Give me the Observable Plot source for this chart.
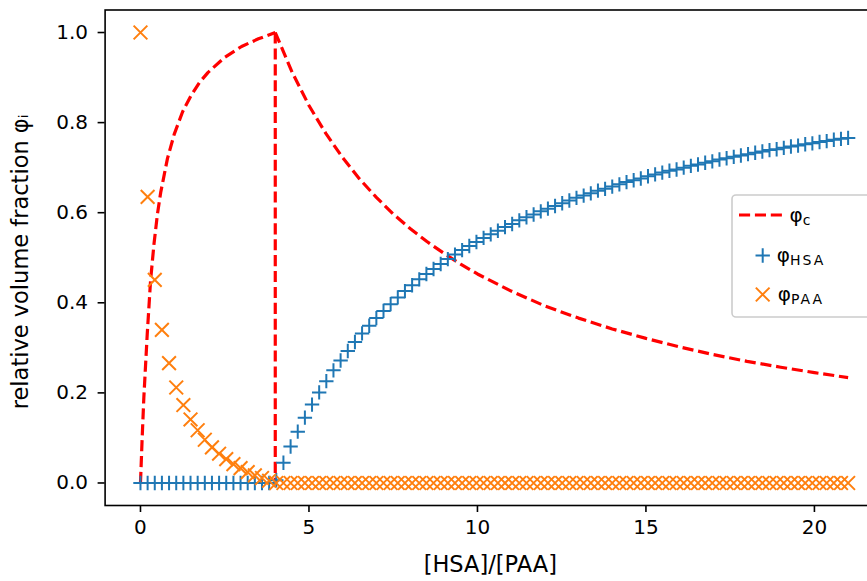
<!DOCTYPE html>
<html>
<head>
<meta charset="utf-8">
<script src="https://cdn.jsdelivr.net/npm/d3@7"></script>
<script src="https://cdn.jsdelivr.net/npm/@observablehq/plot@0.6"></script>
<style>
  html, body { margin: 0; padding: 0; background: white; overflow: hidden; }
  #chart svg { display: block; }
</style>
</head>
<body>
<div id="chart"></div>
<script>
// ---- data ----
const xLabel = "[HSA]/[PAA]";
const yLabel = "relative volume fraction φᵢ";
const xTicks = [0, 5, 10, 15, 20];
const yTicks = [0.0, 0.2, 0.4, 0.6, 0.8, 1.0];
const seriesNames = ["φc", "φHSA", "φPAA"];

// sample grid ([HSA]/[PAA])
const ratio = [0,0.212,0.424,0.636,0.848,1.061,1.273,1.485,1.697,1.909,2.121,2.333,2.545,2.758,2.970,3.182,3.394,3.606,3.818,4.030,
  4.242,4.455,4.667,4.879,5.091,5.303,5.515,5.727,5.939,6.152,6.364,6.576,6.788,7.000,7.212,7.424,7.636,7.848,8.061,8.273,
  8.485,8.697,8.909,9.121,9.333,9.545,9.758,9.970,10.182,10.394,10.606,10.818,11.030,11.242,11.455,11.667,11.879,12.091,12.303,12.515,
  12.727,12.939,13.152,13.364,13.576,13.788,14.000,14.212,14.424,14.636,14.848,15.061,15.273,15.485,15.697,15.909,16.121,16.333,16.545,16.758,
  16.970,17.182,17.394,17.606,17.818,18.030,18.242,18.455,18.667,18.879,19.091,19.303,19.515,19.727,19.939,20.152,20.364,20.576,20.788,21.000];

const phiHSA = [0,0,0,0,0,0,0,0,0,0,0,0,0,0,0,0,0,0,0,0.006,
  0.045,0.081,0.114,0.145,0.174,0.201,0.226,0.250,0.272,0.293,0.313,0.332,0.349,0.366,0.382,0.397,0.412,0.426,0.439,0.452,
  0.464,0.475,0.486,0.497,0.507,0.517,0.526,0.535,0.544,0.552,0.560,0.568,0.575,0.583,0.590,0.596,0.603,0.609,0.615,0.621,
  0.627,0.633,0.638,0.643,0.649,0.653,0.658,0.663,0.668,0.672,0.676,0.681,0.685,0.689,0.693,0.696,0.700,0.704,0.707,0.711,
  0.714,0.718,0.721,0.724,0.727,0.730,0.733,0.736,0.739,0.741,0.744,0.747,0.749,0.752,0.754,0.757,0.759,0.762,0.764,0.766];

const phiPAA = [1.000,0.635,0.451,0.340,0.266,0.212,0.173,0.141,0.117,0.096,0.079,0.065,0.053,0.042,0.033,0.024,0.017,0.011,0.005,0,
  0,0,0,0,0,0,0,0,0,0,0,0,0,0,0,0,0,0,0,0,
  0,0,0,0,0,0,0,0,0,0,0,0,0,0,0,0,0,0,0,0,
  0,0,0,0,0,0,0,0,0,0,0,0,0,0,0,0,0,0,0,0,
  0,0,0,0,0,0,0,0,0,0,0,0,0,0,0,0,0,0,0,0];

// φc : rising branch, drop at the threshold, decaying branch
const phiCRiseX = [0,0.05,0.1,0.15,0.2,0.3,0.4,0.5,0.6,0.8,1.0,1.25,1.5,1.75,2.0,2.5,3.0,3.5,4.0];
const phiCRiseY = [0,0.10,0.19,0.26,0.33,0.45,0.53,0.595,0.645,0.72,0.774,0.824,0.86,0.889,0.911,0.945,0.969,0.986,1.0];
const phiCDropX = [4.0, 4.0];
const phiCDropY = [1.0, 0.0];
const phiCDecayX = [4,4.5,5,5.5,6,6.5,7,7.5,8,8.5,9,9.5,10,11,12,13,14,15,16,17,18,19,20,21];
const phiCDecayY = [1,0.912,0.838,0.776,0.722,0.675,0.634,0.597,0.565,0.536,0.51,0.486,0.464,0.426,0.393,0.366,0.342,0.321,0.302,0.285,0.27,0.257,0.245,0.234];

// ---- tables ----
const redColor = "#ff0000", blueColor = "#1f77b4", orangeColor = "#ff7f0e";
const phiC = [
  ...phiCRiseX.map((x, i) => ({x, y: phiCRiseY[i], part: "rise"})),
  ...phiCDropX.map((x, i) => ({x, y: phiCDropY[i], part: "drop"})),
  ...phiCDecayX.map((x, i) => ({x, y: phiCDecayY[i], part: "decay"}))
];
const hsa = ratio.map((x, i) => ({x, y: phiHSA[i]}));
const paa = ratio.map((x, i) => ({x, y: phiPAA[i]}));

const plusR = 4.7, timesR = 6.3;
const dash = "11.1,4.8";

const chart = Plot.plot({
  width: 867,
  height: 581,
  marginLeft: 104.6,
  marginRight: -16,
  marginTop: 9.5,
  marginBottom: 76,
  x: {domain: [-1.05, 22.05]},
  y: {domain: [-0.05, 1.05]},
  style: {fontFamily: "'DejaVu Sans', sans-serif", fontSize: "20px", background: "white", color: "black"},
  marks: [
    Plot.line(phiC, {x: "x", y: "y", z: "part", stroke: redColor, strokeWidth: 3.2, strokeDasharray: dash, strokeLinecap: "butt"}),
    Plot.dot(hsa, {x: "x", y: "y", symbol: "plus", r: plusR, stroke: blueColor, strokeWidth: 2}),
    Plot.dot(paa, {x: "x", y: "y", symbol: "times", r: timesR, stroke: orangeColor, strokeWidth: 2}),
    Plot.frame({stroke: "black", strokeWidth: 1.6}),
    Plot.axisX({ticks: xTicks, tickSize: 7, tickPadding: 7, strokeWidth: 1.6, label: null, tickFormat: d => String(d)}),
    Plot.axisY({ticks: yTicks, tickSize: 7, tickPadding: 10, strokeWidth: 1.6, label: null, tickFormat: d => d.toFixed(1)}),
    Plot.text([xLabel], {frameAnchor: "bottom", dy: 59, dx: -4, fontSize: 22.5, lineAnchor: "middle", textAnchor: "middle"}),
    Plot.text([yLabel], {frameAnchor: "left", rotate: -90, dx: -84, dy: 4, fontSize: 22.5, lineAnchor: "middle", textAnchor: "middle"})
  ]
});
document.getElementById("chart").appendChild(chart);

// ---- legend (inside the axes, center right) ----
const svg = d3.select(chart);
const lg = svg.append("g").attr("font-family", "'DejaVu Sans', sans-serif");
lg.append("rect").attr("x", 732).attr("y", 195).attr("width", 141).attr("height", 122).attr("rx", 4)
  .attr("fill", "white").attr("fill-opacity", 0.8).attr("stroke", "#cccccc").attr("stroke-width", 1.6);
const rowsY = [215, 255.5, 294.5];
lg.append("line").attr("x1", 739).attr("x2", 786).attr("y1", rowsY[0]).attr("y2", rowsY[0])
  .attr("stroke", redColor).attr("stroke-width", 3.2).attr("stroke-dasharray", dash);
lg.append("path").attr("transform", `translate(762.7,${rowsY[1]})`)
  .attr("d", d3.symbol(d3.symbolPlus, Math.PI * plusR * plusR)()).attr("fill", "none").attr("stroke", blueColor).attr("stroke-width", 2);
lg.append("path").attr("transform", `translate(762.7,${rowsY[2]})`)
  .attr("d", d3.symbol(d3.symbolTimes, Math.PI * timesR * timesR)()).attr("fill", "none").attr("stroke", orangeColor).attr("stroke-width", 2);
const subs = ["c", "HSA", "PAA"];
subs.forEach((s, i) => {
  const t = lg.append("text").attr("x", 801).attr("y", rowsY[i] + 6.5).attr("font-size", 20).attr("fill", "black");
  t.append("tspan").text("φ");
  t.append("tspan").attr("font-size", 14).attr("dy", 3).attr("letter-spacing", 2).text(s);
});
</script>
</body>
</html>
